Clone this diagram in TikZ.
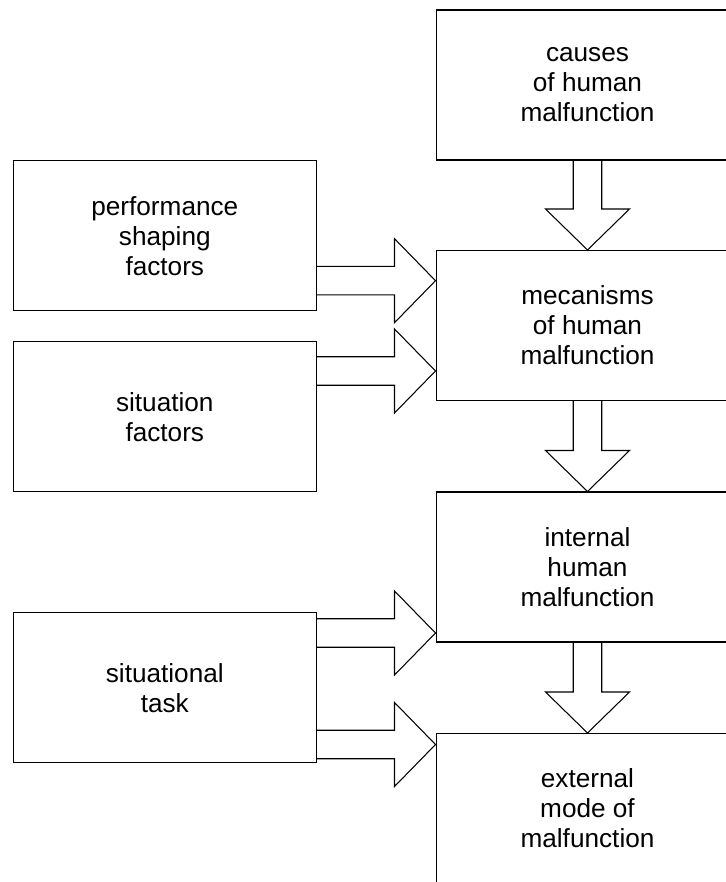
\documentclass[tikz,border=0pt]{standalone}
\usepackage{fontspec}
\setmainfont{Liberation Sans}
\usetikzlibrary{calc}

% block arrow sizes
\newcommand{\shaftw}{0.285cm}
\newcommand{\headw}{0.84cm}
\newcommand{\headlen}{0.82cm}
% hollow block arrow from #1 to #2
\newcommand{\blockarrow}[2]{%
  \coordinate (neck) at ($(#2)!\headlen!(#1)$);
  \draw[blockline] ($(#1)!\shaftw!90:(#2)$) -- ($(neck)!\shaftw!90:(#2)$)
    -- ($(neck)!\headw!90:(#2)$) -- (#2) -- ($(neck)!\headw!-90:(#2)$)
    -- ($(neck)!\shaftw!-90:(#2)$) -- ($(#1)!\shaftw!-90:(#2)$);}

\begin{document}
\begin{tikzpicture}[x=0.02cm, y=-0.02cm,
  stage/.style={draw, line width=0.6pt, minimum width=6.06cm, minimum height=3cm, inner sep=0pt, align=center, font=\fontsize{14.9}{17.1}\selectfont},
  blockline/.style={draw, line width=0.6pt, line join=miter}
]
  \useasboundingbox (0,0) rectangle (726,882);
  \fill[white] (0,0) rectangle (726,882);
  \clip (0,0) rectangle (726,882);

  % chain on the right
  \node[stage] (causes) at (587.5,85)    {causes\\of human\\malfunction};
  \node[stage] (mecan)  at (587.5,325.5) {mecanisms\\of human\\malfunction};
  \node[stage] (intern) at (587.5,567)   {internal\\human\\malfunction};
  \node[stage] (extern) at (587.5,808.5) {external\\mode of\\malfunction};

  % influences on the left
  \node[stage] (perf) at (164.8,235.7) {performance\\shaping\\factors};
  \node[stage] (situ) at (164.8,416.7) {situation\\factors};
  \node[stage] (task) at (164.8,687.7) {situational\\task};

  \foreach \a/\b in {causes/mecan, mecan/intern, intern/extern}
    {\blockarrow{\a.south}{\b.north}}

  \foreach \a/\b/\y in {perf/mecan/280.7, situ/mecan/371, task/intern/633, task/extern/744.5}
    {\coordinate (from) at (\a.east |- 0,\y);
     \coordinate (to) at (\b.west |- 0,\y);
     \blockarrow{from}{to}}
\end{tikzpicture}
\end{document}
